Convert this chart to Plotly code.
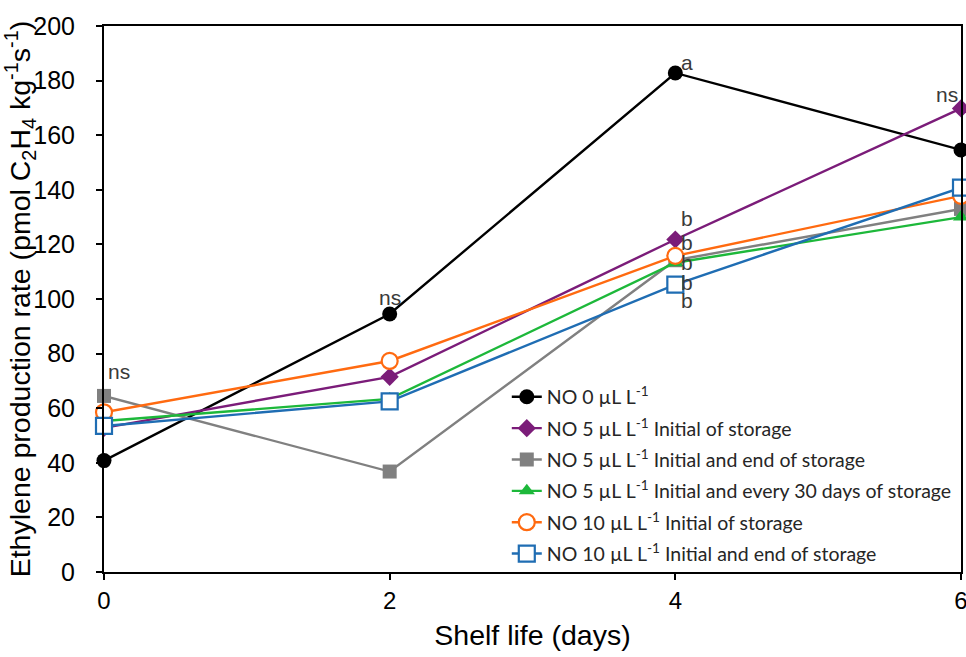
import plotly.graph_objects as go

days = [0, 2, 4, 6]
no0 = [40.8, 94.5, 182.8, 154.6]
no5_init = [52.8, 71.5, 121.8, 169.8]
no5_init_end = [64.5, 36.8, 114.2, 133.0]
no5_every30 = [55.3, 63.4, 113.3, 130.0]
no10_init = [58.5, 77.3, 115.8, 137.8]
no10_init_end = [53.5, 62.5, 105.3, 140.8]

series_names = [
    "NO 0 µL L<sup>-1</sup>",
    "NO 5 µL L<sup>-1</sup> Initial of storage",
    "NO 5 µL L<sup>-1</sup> Initial and end of storage",
    "NO 5 µL L<sup>-1</sup> Initial and every 30 days of storage",
    "NO 10 µL L<sup>-1</sup> Initial of storage",
    "NO 10 µL L<sup>-1</sup> Initial and end of storage",
]
series_values = [no0, no5_init, no5_init_end, no5_every30, no10_init, no10_init_end]

# significance letters
letter_x = [0, 2, 4, 6, 4, 4, 4, 4, 4]
letter_y = [73.5, 100.5, 186.5, 175.0, 129.4, 120.6, 113.3, 106.0, 99.5]
letter_txt = ["ns", "ns", "a", "ns", "b", "b", "b", "b", "b"]
letter_shift = [15, 0, 12, -14, 12, 12, 12, 12, 12]

styles = [
    dict(color="#000000", symbol="circle", size=15, fill="#000000", lw=0),
    dict(color="#7B1C79", symbol="diamond", size=14, fill="#7B1C79", lw=0),
    dict(color="#808080", symbol="square", size=14, fill="#808080", lw=0),
    dict(color="#1DB83A", symbol="triangle-up", size=14, fill="#1DB83A", lw=0),
    dict(color="#FF6A10", symbol="circle", size=16, fill="#FFFFFF", lw=2.2),
    dict(color="#1F6DB3", symbol="square", size=16, fill="#FFFFFF", lw=2.2),
]

fig = go.Figure()
for i, (name, vals, st) in enumerate(zip(series_names, series_values, styles)):
    fig.add_trace(go.Scatter(
        x=days, y=vals, mode="lines+markers", name=name,
        legendgroup=f"g{i}",
        line=dict(color=st["color"], width=2.4),
        marker=dict(symbol=st["symbol"], size=st["size"], color=st["fill"],
                    line=dict(color=st["color"], width=st["lw"])),
        cliponaxis=False,
    ))

for x, y, t, s in zip(letter_x, letter_y, letter_txt, letter_shift):
    fig.add_annotation(x=x, y=y, text=t, showarrow=False, xshift=s,
                       font=dict(family="Liberation Sans, Arial", size=21, color="#3a3a3a"))

fig.update_layout(
    width=966, height=657,
    margin=dict(l=104, r=5, t=26, b=85),
    plot_bgcolor="white", paper_bgcolor="white",
    showlegend=True,
    legend=dict(x=0.47, y=0.356, xanchor="left", yanchor="top",
                bgcolor="rgba(255,255,255,0)", borderwidth=0, tracegroupgap=3,
                font=dict(family="Lato, Open Sans, sans-serif", size=19.5, color="#262626")),
    xaxis=dict(range=[0, 6], tickvals=[0, 2, 4, 6], showgrid=False, zeroline=False,
               showline=True, linecolor="black", linewidth=2, mirror=True,
               ticks="outside", ticklen=6, tickwidth=1.5, tickcolor="black",
               automargin=False, ticklabeloverflow="allow",
               tickfont=dict(family="Liberation Sans, Arial", size=24, color="black"),
               title=dict(text="Shelf life (days)", standoff=12,
                          font=dict(family="Liberation Sans, Arial", size=28.5, color="black"))),
    yaxis=dict(range=[0, 200], tickvals=list(range(0, 201, 20)), showgrid=False, zeroline=False,
               showline=True, linecolor="black", linewidth=2, mirror=True,
               ticks="outside", ticklen=6, tickwidth=1.5, tickcolor="black",
               automargin=False, ticklabelstandoff=16,
               tickfont=dict(family="Liberation Sans, Arial", size=25, color="black"),
               title=dict(text="Ethylene production rate (pmol C<sub>2</sub>H<sub>4</sub> kg<sup>-1</sup>s<sup>-1</sup>)",
                          standoff=4,
                          font=dict(family="Liberation Sans, Arial", size=28.5, color="black"))),
)

fig.write_html(
    "out.html",
    config={"displayModeBar": False},
    post_script="document.documentElement.style.overflow='hidden';"
                "document.body.style.margin='0';document.body.style.overflow='hidden';",
)
